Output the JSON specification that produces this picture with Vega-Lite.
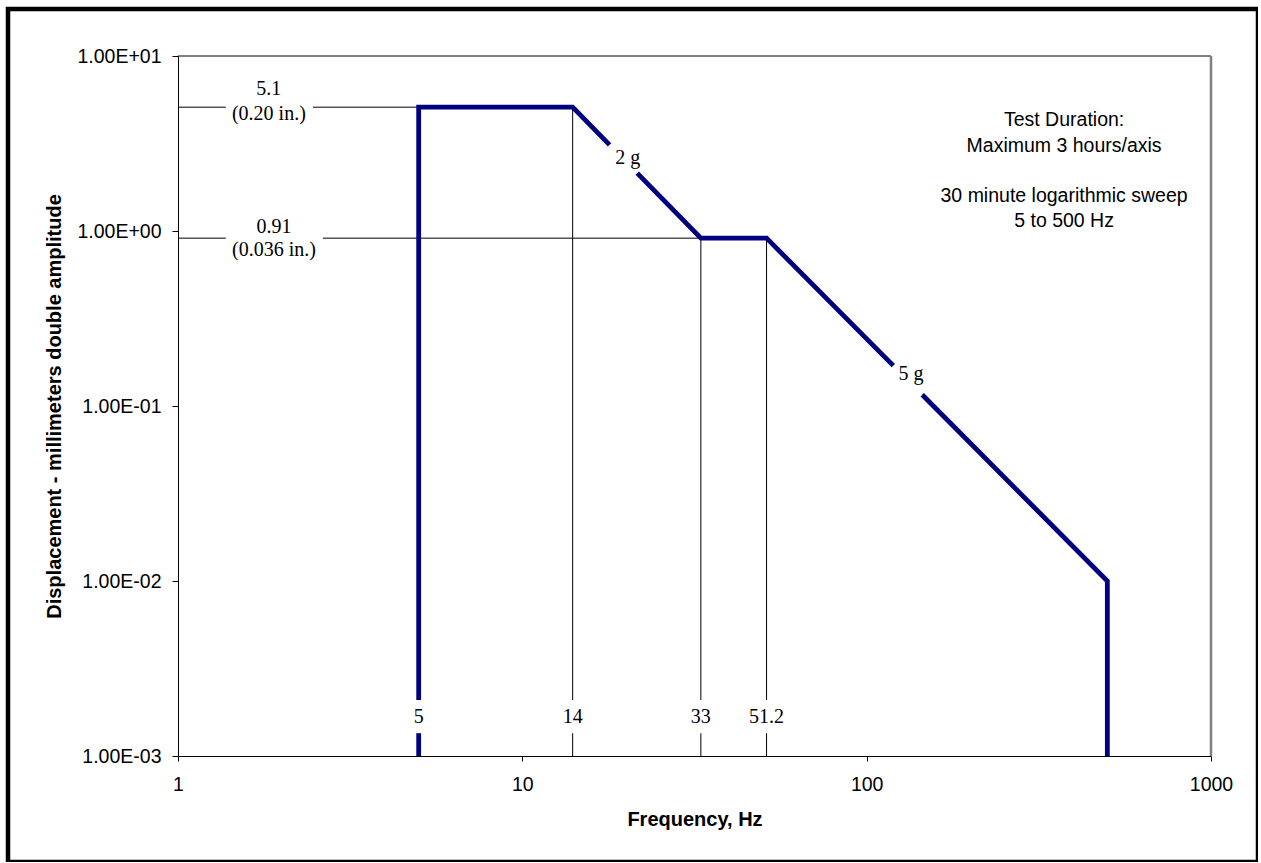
{
  "$schema": "https://vega.github.io/schema/vega-lite/v6.json",
  "autosize": {"type": "none"},
  "padding": {"left": 8, "top": 9, "right": 0, "bottom": 0},
  "width": 1250,
  "height": 853,
  "background": "white",
  "config": {
    "view": {"stroke": "black", "strokeWidth": 4.5},
    "axis": {
      "labelFont": "Liberation Sans",
      "labelFontSize": 19.5,
      "labelColor": "black",
      "titleFont": "Liberation Sans",
      "titleFontSize": 20,
      "titleFontWeight": "bold",
      "titleColor": "black",
      "domainColor": "black",
      "domainWidth": 1,
      "tickColor": "black",
      "tickWidth": 1,
      "grid": false
    }
  },
  "datasets": {
    "blue": [
      {"seg": "A", "o": 1, "f": 5, "d": 0.001},
      {"seg": "A", "o": 2, "f": 5, "d": 0.00135},
      {"seg": "B", "o": 3, "f": 5, "d": 0.00209},
      {"seg": "B", "o": 4, "f": 5, "d": 5.1},
      {"seg": "B", "o": 5, "f": 14, "d": 5.1},
      {"seg": "B", "o": 6, "f": 17.92, "d": 3.105},
      {"seg": "C", "o": 7, "f": 21.56, "d": 2.141},
      {"seg": "C", "o": 8, "f": 33, "d": 0.91},
      {"seg": "C", "o": 9, "f": 51.2, "d": 0.91},
      {"seg": "C", "o": 10, "f": 119.5, "d": 0.1701},
      {"seg": "D", "o": 11, "f": 145.0, "d": 0.116},
      {"seg": "D", "o": 12, "f": 500, "d": 0.01},
      {"seg": "D", "o": 13, "f": 500, "d": 0.001}
    ],
    "thin": [
      {"f": 1, "f2": 1.377, "d": 5.1, "d2": 5.1},
      {"f": 2.465, "f2": 5, "d": 5.1, "d2": 5.1},
      {"f": 1, "f2": 1.377, "d": 0.91, "d2": 0.91},
      {"f": 2.635, "f2": 33, "d": 0.91, "d2": 0.91},
      {"f": 14, "f2": 14, "d": 5.1, "d2": 0.00209},
      {"f": 14, "f2": 14, "d": 0.00135, "d2": 0.001},
      {"f": 33, "f2": 33, "d": 0.91, "d2": 0.00209},
      {"f": 33, "f2": 33, "d": 0.00135, "d2": 0.001},
      {"f": 51.2, "f2": 51.2, "d": 0.91, "d2": 0.00209},
      {"f": 51.2, "f2": 51.2, "d": 0.00135, "d2": 0.001}
    ],
    "serif": [
      {"f": 1.836, "d": 6.477, "t": "5.1"},
      {"f": 1.836, "d": 4.663, "t": "(0.20 in.)"},
      {"f": 1.899, "d": 1.058, "t": "0.91"},
      {"f": 1.899, "d": 0.7789, "t": "(0.036 in.)"},
      {"f": 5, "d": 0.00168, "t": "5"},
      {"f": 14, "d": 0.00168, "t": "14"},
      {"f": 33, "d": 0.00168, "t": "33"},
      {"f": 51.2, "d": 0.00168, "t": "51.2"},
      {"f": 20.24, "d": 2.613, "t": "2 g"},
      {"f": 134.5, "d": 0.1514, "t": "5 g"}
    ],
    "sans": [
      {"f": 374.4, "d": 4.28, "t": "Test Duration:"},
      {"f": 374.4, "d": 3.08, "t": "Maximum 3 hours/axis"},
      {"f": 374.4, "d": 1.595, "t": "30 minute logarithmic sweep"},
      {"f": 374.4, "d": 1.148, "t": "5 to 500 Hz"}
    ]
  },
  "encoding": {
    "x": {
      "field": "f", "type": "quantitative",
      "scale": {"type": "log", "domain": [1, 1000], "range": [170, 1203], "nice": false},
      "axis": {
        "title": "Frequency, Hz",
        "values": [1, 10, 100, 1000],
        "format": "d",
        "offset": -106,
        "tickSize": 5,
        "labelPadding": 14,
        "titlePadding": 16,
        "labelFlush": false,
        "labelOverlap": false
      }
    },
    "y": {
      "field": "d", "type": "quantitative",
      "scale": {"type": "log", "domain": [0.001, 10], "range": [747, 47], "nice": false},
      "axis": {
        "title": "Displacement - millimeters double amplitude",
        "values": [0.001, 0.01, 0.1, 1, 10],
        "labelExpr": "'1.00E' + (datum.value >= 1 ? '+' : '-') + '0' + format(abs(round(log(datum.value) / LN10)), 'd')",
        "offset": -170,
        "tickSize": 6,
        "labelPadding": 11,
        "titlePadding": 12,
        "labelFlush": false,
        "labelOverlap": false
      }
    }
  },
  "layer": [
    {
      "data": {"values": [{"f": 1, "f2": 1000, "d": 10, "d2": 10}]},
      "mark": {"type": "rule", "color": "black", "strokeWidth": 1},
      "encoding": {"x2": {"field": "f2"}, "y2": {"field": "d2"}}
    },
    {
      "data": {"values": [{"f": 1000, "f2": 1000, "d": 0.001, "d2": 10}]},
      "mark": {"type": "rule", "color": "#808080", "strokeWidth": 2.5},
      "encoding": {"x2": {"field": "f2"}, "y2": {"field": "d2"}}
    },
    {
      "data": {"name": "thin"},
      "mark": {"type": "rule", "color": "black", "strokeWidth": 1},
      "encoding": {"x2": {"field": "f2"}, "y2": {"field": "d2"}}
    },
    {
      "data": {"name": "blue"},
      "mark": {"type": "line", "color": "#000080", "strokeWidth": 4.8, "strokeJoin": "miter", "strokeCap": "butt"},
      "encoding": {
        "detail": {"field": "seg"},
        "order": {"field": "o", "type": "quantitative"}
      }
    },
    {
      "data": {"name": "serif"},
      "mark": {"type": "text", "font": "Liberation Serif", "fontSize": 20, "color": "black", "align": "center", "baseline": "middle"},
      "encoding": {"text": {"field": "t"}}
    },
    {
      "data": {"name": "sans"},
      "mark": {"type": "text", "font": "Liberation Sans", "fontSize": 19.5, "color": "black", "align": "center", "baseline": "middle"},
      "encoding": {"text": {"field": "t"}}
    }
  ]
}
